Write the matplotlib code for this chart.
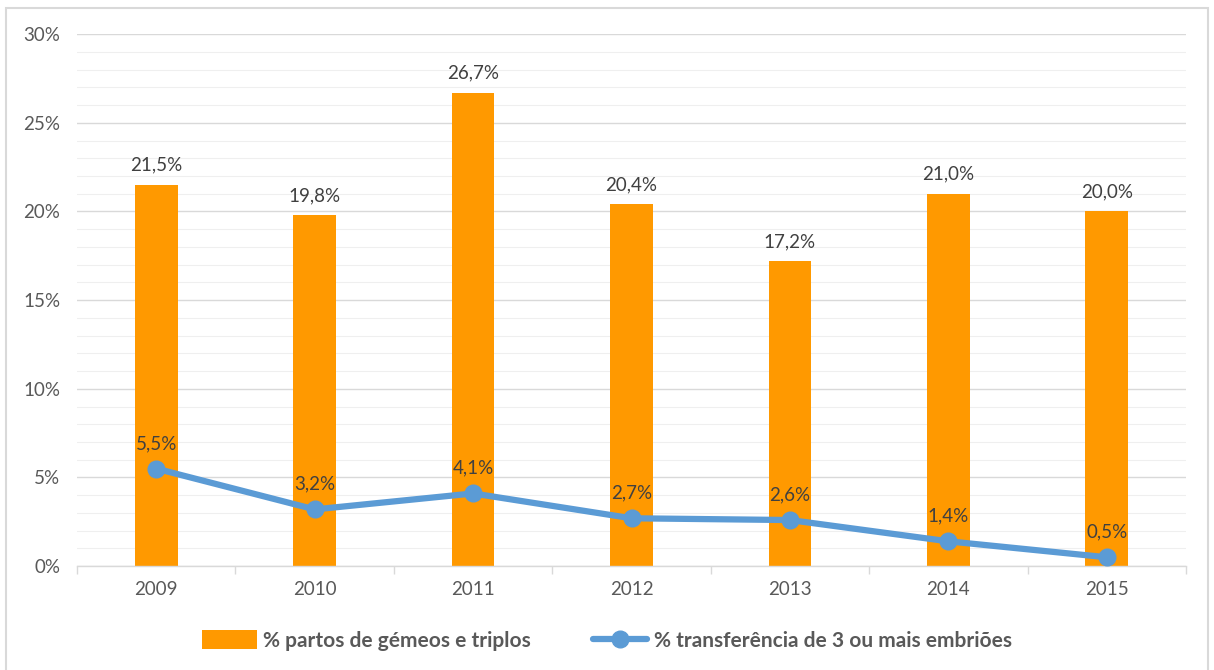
import matplotlib
matplotlib.use("Agg")
import matplotlib.pyplot as plt
from matplotlib.patches import Rectangle
import numpy as np

years = ["2009", "2010", "2011", "2012", "2013", "2014", "2015"]
partos_gemeos_triplos = [21.5, 19.8, 26.7, 20.4, 17.2, 21.0, 20.0]
transferencia_3_mais = [5.5, 3.2, 4.1, 2.7, 2.6, 1.4, 0.5]
y_ticks = [0, 5, 10, 15, 20, 25, 30]

bar_color = "#FF9900"
line_color = "#5B9BD5"
text_color = "#595959"
label_color = "#404040"

plt.rcParams["font.family"] = ["Lato", "DejaVu Sans"]

fig = plt.figure(figsize=(12.14, 6.70), dpi=100)
fig.patches.append(Rectangle((0.005, -0.01), 0.99, 0.998, transform=fig.transFigure,
                             fill=False, edgecolor="#D9D9D9", linewidth=1.5))

ax = fig.add_axes([0.0634, 0.155, 0.9136, 0.794])
x = np.arange(len(years))

bars = ax.bar(x, partos_gemeos_triplos, width=0.27, color=bar_color, zorder=2,
              label="% partos de gémeos e triplos")
line, = ax.plot(x, transferencia_3_mais, color=line_color, linewidth=4.5, marker="o",
                markersize=12, zorder=3, solid_capstyle="round",
                label="% transferência de 3 ou mais embriões")

def fmt(v):
    return f"{v:.1f}%".replace(".", ",")

for xi, v in zip(x, partos_gemeos_triplos):
    ax.annotate(fmt(v), (xi, v), xytext=(0, 8), textcoords="offset points",
                ha="center", va="bottom", fontsize=13.5, color=label_color)
for xi, v in zip(x, transferencia_3_mais):
    ax.annotate(fmt(v), (xi, v), xytext=(0, 12), textcoords="offset points",
                ha="center", va="bottom", fontsize=13.5, color=label_color, zorder=4)

ax.set_xlim(-0.5, len(years) - 0.5)
ax.set_ylim(0, 30)
ax.set_yticks(y_ticks)
ax.set_yticklabels([f"{t}%" for t in y_ticks])
ax.set_yticks(np.arange(0, 31, 1), minor=True)
ax.grid(axis="y", which="major", color="#D9D9D9", linewidth=1, zorder=0)
ax.grid(axis="y", which="minor", color="#EFEFEF", linewidth=0.8, zorder=0)
ax.set_axisbelow(True)

ax.set_xticks(x)
ax.set_xticklabels(years)
ax.set_xticks(np.arange(-0.5, len(years)), minor=True)
ax.tick_params(axis="x", which="major", length=0, pad=11, labelsize=13.5, labelcolor=text_color)
ax.tick_params(axis="x", which="minor", length=6, color="#D9D9D9", width=1)
ax.tick_params(axis="y", which="both", length=0, pad=12, labelsize=13.5, labelcolor=text_color)

for side in ["top", "right", "left"]:
    ax.spines[side].set_visible(False)
ax.spines["bottom"].set_color("#D9D9D9")
ax.spines["bottom"].set_linewidth(1)

leg = fig.legend([bars, line], [bars.get_label(), line.get_label()], loc="center",
                 bbox_to_anchor=(0.5, 0.044), ncol=2, frameon=False, fontsize=15,
                 handlelength=2.6, handleheight=1.0, columnspacing=3.0, handletextpad=0.3)
for t in leg.get_texts():
    t.set_color(text_color)
    t.set_fontweight("bold")

fig.savefig("out.png", dpi=100)
